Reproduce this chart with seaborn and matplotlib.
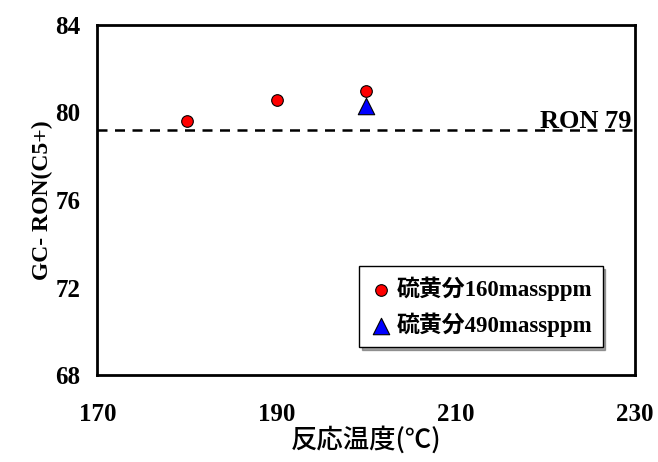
import matplotlib
matplotlib.use("Agg")
import matplotlib.pyplot as plt
import seaborn as sns
import pandas as pd

# data
temp_160 = [180, 190, 200]
ron_160 = [79.6, 80.55, 81.0]
temp_490 = [200]
ron_490 = [80.3]
ron_ref = 79.2
xticks = [170, 190, 210, 230]
yticks = [68, 72, 76, 80, 84]
label_160 = "硫黄分160massppm"
label_490 = "硫黄分490massppm"

sns.set_theme(style="white")
plt.rcParams["font.family"] = ["Liberation Serif", "Noto Sans CJK JP", "DejaVu Sans"]
plt.rcParams["font.weight"] = "bold"
plt.rcParams["text.color"] = "black"
plt.rcParams["axes.labelcolor"] = "black"

df160 = pd.DataFrame({"temp": temp_160, "ron": ron_160})
df490 = pd.DataFrame({"temp": temp_490, "ron": ron_490})

fig, ax = plt.subplots(figsize=(6.58, 4.62), dpi=100)
fig.subplots_adjust(left=0.148, right=0.965, top=0.946, bottom=0.188)

sns.scatterplot(data=df160, x="temp", y="ron", ax=ax, marker="o", s=70,
                color="red", edgecolor="black", linewidth=0.8, label=label_160, zorder=3)
sns.scatterplot(data=df490, x="temp", y="ron", ax=ax, marker="^", s=140,
                color="blue", edgecolor="black", linewidth=0.8, label=label_490, zorder=3)

ax.axhline(ron_ref, color="black", linestyle=(0, (4, 3)), linewidth=1.8, zorder=2)
ax.text(229.6, ron_ref - 0.15, "RON 79", ha="right", va="bottom",
        fontsize=19, fontweight="bold", family=["Liberation Serif"])

ax.set_xlim(170, 230)
ax.set_ylim(68, 84)
ax.set_xticks(xticks)
ax.set_yticks(yticks)
ax.tick_params(direction="in", length=7, width=1, colors="black", pad=12,
               labelsize=18)
ax.tick_params(axis="x", pad=20)
for lab in ax.get_xticklabels() + ax.get_yticklabels():
    lab.set_fontweight("bold")

for sp in ax.spines.values():
    sp.set_color("black")
    sp.set_linewidth(2)

ax.set_xlabel("反応温度(℃)", fontsize=19, fontweight="medium",
              family=["Noto Sans CJK JP", "DejaVu Sans"], labelpad=0)
ax.set_ylabel("GC- RON(C5+)", fontsize=17, fontweight="bold", labelpad=2)

leg = ax.legend(loc="lower right", bbox_to_anchor=(0.94, 0.08), frameon=True,
                fancybox=False, shadow=True, edgecolor="black", fontsize=16.5,
                handletextpad=0.2, borderpad=0.45, labelspacing=0.5,
                handlelength=1.0, borderaxespad=0)
leg.get_frame().set_linewidth(1)
for t in leg.get_texts():
    t.set_family(["Liberation Serif", "Noto Sans CJK JP"])
    t.set_fontweight("bold")

fig.savefig("out.png", dpi=100, facecolor="white")
